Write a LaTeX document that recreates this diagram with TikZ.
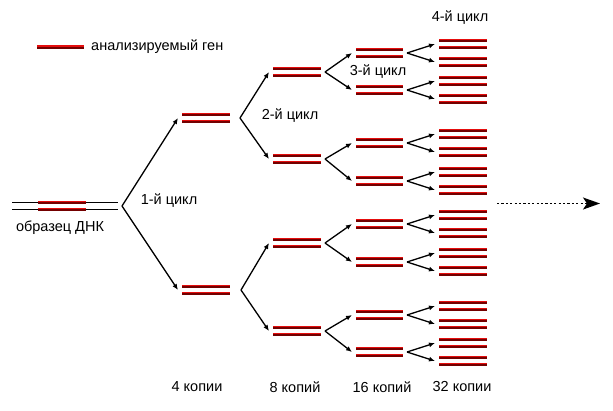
\documentclass[tikz,border=0pt]{standalone}
\usepackage{fontspec}
\setmainfont{Liberation Sans}
\usetikzlibrary{arrows.meta}
\usetikzlibrary{positioning}
\definecolor{gred}{rgb}{0.9, 0.05, 0.05}
\definecolor{gdark}{rgb}{0.45, 0.0, 0.0}
\tikzset{gene/.style = {gred, line width=2.2pt,
                        postaction={draw=gdark, line width=1.8pt, transform canvas={yshift=-1.4pt}}},
         fork/.style = {-{Latex[length=6pt, width=5pt]}, line width=1.3pt},
         lbl/.style = {font=\fontsize{14.5}{17}\selectfont, inner sep=0pt}}
% two strands of length #4 at (#2, #3); name-t is the arrow end, name-v the fork point
\newcommand\dnapair[4]{%
  \draw [gene] (#2, {#3-4.2}) -- ++(#4, 0);
  \draw [gene] (#2, {#3+2.8}) -- ++(#4, 0);
  \coordinate (#1-t) at ({#2-4}, #3);
  \coordinate (#1-v) at ({#2+#4+4}, #3);
}

\begin{document}
\begin{tikzpicture}[x=1pt, y=-1pt]
    \useasboundingbox (0, 0) rectangle (613, 410);

    % legend
    \draw [gene] (37, 46.5) -- (84, 46.5);
    \node [lbl, anchor=west] (legend) at (91, 47) {анализируемый ген};

    % sample
    \draw [line width=1.4pt] (12, 202.5) -- (118, 202.5);
    \draw [line width=1.4pt] (12, 209.5) -- (118, 209.5);
    \draw [gene] (38, 201.8) -- (86, 201.8);
    \draw [gene] (38, 208.8) -- (86, 208.8);
    \coordinate (s-v) at (122, 206);
    \node [lbl] (sample) at (60, 228) {образец ДНК};

    % cycle 1
    \dnapair{b1}{182}{118}{48}
    \dnapair{b2}{182}{290}{48}
    \coordinate (b1-v) at (240, 118);
    \coordinate (b2-v) at (241, 290);
    \draw [fork] (s-v) -- (b1-t);
    \draw [fork] (s-v) -- (b2-t);

    % cycle 2
    \foreach \i/\c in {1/72, 2/159, 3/243, 4/331} {
      \dnapair{c\i}{273}{\c}{48}
    }
    \draw [fork] (b1-v) -- (c1-t);
    \draw [fork] (b1-v) -- (c2-t);
    \draw [fork] (b2-v) -- (c3-t);
    \draw [fork] (b2-v) -- (c4-t);

    % cycle 3
    \foreach \i/\c in {1/53, 2/90, 3/143, 4/181, 5/224, 6/262, 7/315, 8/352} {
      \dnapair{d\i}{356}{\c}{47}
    }
    \foreach \p/\a/\b in {c1/d1/d2, c2/d3/d4, c3/d5/d6, c4/d7/d8} {
      \draw [fork] (\p-v) -- (\a-t);
      \draw [fork] (\p-v) -- (\b-t);
    }

    % cycle 4
    \foreach \i/\c in {1/53, 2/90, 3/143, 4/181, 5/224, 6/262, 7/315, 8/352} {
      \dnapair{e\i a}{439}{\c-9}{48}
      \dnapair{e\i b}{439}{\c+9}{48}
      \draw [fork] (d\i-v) -- (e\i a-t);
      \draw [fork] (d\i-v) -- (e\i b-t);
    }

    % and so on
    \coordinate (more-s) at (497, 203.5);
    \coordinate (more-e) at (600, 203.5);
    \draw [line width=1.6pt, dash pattern=on 2.2pt off 2.2pt,
           -{Stealth[length=17pt, width=12pt, inset=4pt]}] (more-s) -- (more-e);

    % cycle labels
    \node [lbl] (cyc1) at (169, 201) {1-й цикл};
    \node [lbl] (cyc2) at (290, 116) {2-й цикл};
    \node [lbl] (cyc3) at (378, 72) {3-й цикл};
    \node [lbl] (cyc4) at (460, 18) {4-й цикл};

    % copy counts
    \node [lbl] (n4) at (197, 387) {4 копии};
    \node [lbl] (n8) at (295, 387) {8 копий};
    \node [lbl] (n16) at (382, 387) {16 копий};
    \node [lbl] (n32) at (462, 387) {32 копии};
  \end{tikzpicture}
\end{document}
